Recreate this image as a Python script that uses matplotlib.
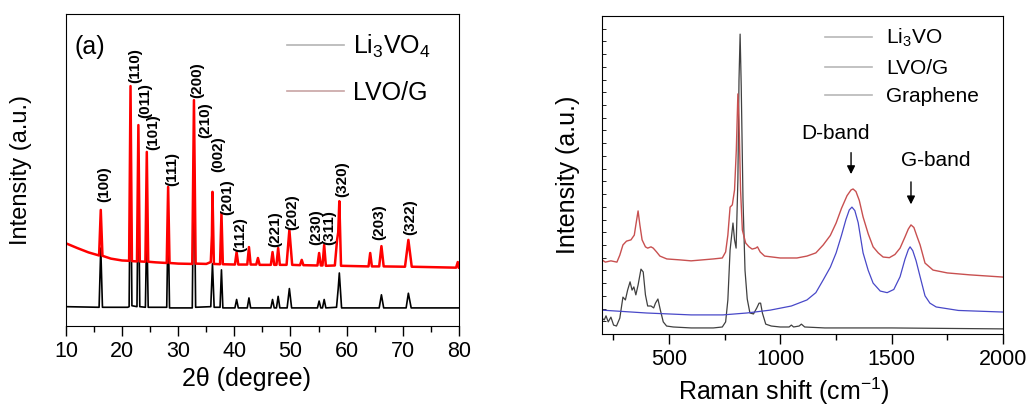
import matplotlib
matplotlib.use("Agg")
import matplotlib.pyplot as plt
from matplotlib.lines import Line2D
from matplotlib.ticker import MultipleLocator

plt.rcParams["font.family"] = ["Liberation Sans", "DejaVu Sans"]
plt.rcParams["mathtext.default"] = "regular"

# ---- XRD data (2theta in degree, intensity in arbitrary units) ----
lvog_xrd_x = [10.0, 12.0, 14.0, 15.9, 16.2, 16.5, 18.0, 20.0, 21.25, 21.5, 21.75, 22.65, 22.9, 23.15,
              24.15, 24.4, 24.65, 26.0, 27.95, 28.2, 28.45, 30.0, 32.5, 32.8, 33.1, 35.0, 35.8, 36.0,
              36.1, 36.35, 37.45, 37.7, 37.95, 40.1, 40.4, 40.7, 42.3, 42.6, 42.9, 43.9, 44.2, 44.5,
              46.5, 46.8, 47.1, 47.5, 47.8, 48.1, 49.3, 49.8, 50.3, 51.7, 52.0, 52.3, 54.8, 55.1, 55.4,
              55.7, 56.0, 56.3, 57.9, 58.3, 58.5, 58.7, 59.0, 63.9, 64.2, 64.5, 65.8, 66.2, 66.6,
              70.4, 71.0, 71.6, 79.5, 79.8, 80.0]
lvog_xrd_y = [0.265, 0.250, 0.236, 0.226, 0.372, 0.225, 0.216, 0.210, 0.209, 0.769, 0.208, 0.207, 0.644, 0.207,
              0.206, 0.558, 0.206, 0.204, 0.202, 0.446, 0.202, 0.200, 0.199, 0.724, 0.200, 0.199, 0.205, 0.290,
              0.430, 0.199, 0.198, 0.362, 0.198, 0.197, 0.237, 0.197, 0.197, 0.253, 0.197, 0.197, 0.218, 0.196,
              0.196, 0.237, 0.196, 0.196, 0.250, 0.196, 0.196, 0.308, 0.196, 0.195, 0.212, 0.195, 0.194, 0.234, 0.194,
              0.194, 0.260, 0.193, 0.194, 0.276, 0.300, 0.400, 0.193, 0.191, 0.234, 0.191, 0.191, 0.256, 0.191,
              0.190, 0.276, 0.190, 0.187, 0.205, 0.187]

lvo_xrd_x = [10.0, 15.9, 16.2, 16.5, 21.0, 21.25, 21.5, 21.75, 22.65, 22.9, 23.15, 24.15, 24.4, 24.65,
             27.95, 28.2, 28.45, 32.5, 32.8, 33.1, 35.8, 36.1, 36.4, 37.45, 37.7, 37.95, 40.1, 40.4, 40.7,
             42.3, 42.6, 42.9, 46.5, 46.8, 47.1, 47.5, 47.8, 48.1, 49.4, 49.8, 50.2, 54.8, 55.1, 55.4,
             55.7, 56.0, 56.3, 58.2, 58.5, 58.7, 59.1, 65.8, 66.2, 66.6, 70.6, 71.0, 71.5, 80.0]
lvo_xrd_y = [0.062, 0.060, 0.250, 0.060, 0.060, 0.062, 0.600, 0.065, 0.062, 0.510, 0.062, 0.060, 0.330, 0.060,
             0.060, 0.350, 0.058, 0.058, 0.600, 0.060, 0.062, 0.200, 0.060, 0.060, 0.180, 0.058, 0.058, 0.085, 0.058,
             0.058, 0.090, 0.058, 0.058, 0.085, 0.058, 0.058, 0.095, 0.058, 0.058, 0.120, 0.058, 0.058, 0.080, 0.058,
             0.058, 0.085, 0.058, 0.060, 0.120, 0.170, 0.058, 0.058, 0.100, 0.058, 0.058, 0.105, 0.058, 0.058]

hkl_labels = ["(100)", "(110)", "(011)", "(101)", "(111)", "(200)", "(210)", "(002)", "(201)",
              "(112)", "(221)", "(202)", "(230)", "(311)", "(320)", "(203)", "(322)"]
hkl_x = [16.9, 22.3, 24.1, 25.5, 28.9, 33.3, 34.8, 37.1, 38.7, 41.0, 47.2, 50.4, 54.5, 56.9, 59.2, 65.9, 71.3]
hkl_y = [0.397, 0.779, 0.667, 0.564, 0.449, 0.731, 0.603, 0.494, 0.356, 0.237, 0.253, 0.308, 0.260, 0.260,
         0.413, 0.276, 0.292]

# ---- Raman data (cm-1, intensity in arbitrary units) ----
lvo_raman_x = [200, 210, 218, 228, 240, 252, 265, 280, 294, 305, 315, 326, 335, 343, 352, 362, 375, 385,
               395, 405, 420, 432, 440, 451, 462, 475, 490, 520, 600, 700, 740, 755, 765, 775, 788, 795,
               802, 810, 815, 820, 825, 833, 842, 852, 864, 880, 895, 905, 912, 920, 935, 960, 1000, 1040,
               1050, 1060, 1085, 1095, 1110, 1200, 1500, 2000]
lvo_raman_y = [0.050, 0.044, 0.057, 0.038, 0.053, 0.028, 0.025, 0.050, 0.116, 0.107, 0.138, 0.164, 0.138,
               0.148, 0.123, 0.154, 0.204, 0.195, 0.123, 0.088, 0.088, 0.082, 0.097, 0.110, 0.075, 0.038,
               0.025, 0.022, 0.019, 0.019, 0.022, 0.038, 0.107, 0.264, 0.349, 0.296, 0.270, 0.484, 0.799,
               0.943, 0.780, 0.420, 0.200, 0.110, 0.066, 0.063, 0.082, 0.097, 0.097, 0.066, 0.031, 0.025,
               0.022, 0.022, 0.028, 0.022, 0.025, 0.031, 0.022, 0.019, 0.019, 0.016]

lvog_raman_x = [200, 215, 240, 267, 280, 294, 310, 330, 345, 352, 362, 370, 380, 395, 405, 420, 430, 445,
                460, 491, 550, 600, 650, 700, 740, 755, 765, 775, 785, 795, 803, 810, 815, 822, 830, 845,
                860, 874, 890, 898, 910, 930, 1000, 1075, 1120, 1160, 1193, 1225, 1251, 1275, 1300, 1318,
                1327, 1340, 1355, 1372, 1395, 1417, 1440, 1462, 1490, 1515, 1538, 1560, 1575, 1587, 1600,
                1615, 1628, 1650, 1686, 1750, 1850, 2000]
lvog_raman_y = [0.233, 0.226, 0.230, 0.226, 0.248, 0.280, 0.292, 0.296, 0.311, 0.343, 0.387, 0.343, 0.296,
                0.274, 0.270, 0.274, 0.270, 0.258, 0.245, 0.236, 0.233, 0.230, 0.233, 0.236, 0.239, 0.258,
                0.311, 0.399, 0.406, 0.453, 0.579, 0.755, 0.673, 0.453, 0.327, 0.286, 0.274, 0.267, 0.270,
                0.274, 0.258, 0.245, 0.239, 0.239, 0.245, 0.255, 0.280, 0.310, 0.349, 0.395, 0.435, 0.453,
                0.456, 0.448, 0.420, 0.368, 0.315, 0.274, 0.255, 0.242, 0.240, 0.250, 0.270, 0.305, 0.330,
                0.343, 0.335, 0.305, 0.280, 0.223, 0.201, 0.192, 0.186, 0.179]

graphene_x = [200, 400, 600, 743, 850, 955, 1050, 1120, 1160, 1193, 1225, 1251, 1275, 1295, 1310, 1322,
              1335, 1350, 1372, 1395, 1417, 1449, 1480, 1510, 1538, 1560, 1575, 1583, 1595, 1610, 1628,
              1650, 1672, 1700, 1800, 2000]
graphene_y = [0.075, 0.066, 0.060, 0.060, 0.066, 0.075, 0.088, 0.107, 0.130, 0.170, 0.210, 0.255, 0.310,
              0.360, 0.390, 0.399, 0.388, 0.350, 0.255, 0.200, 0.160, 0.135, 0.130, 0.140, 0.180, 0.235,
              0.265, 0.274, 0.262, 0.230, 0.180, 0.120, 0.097, 0.085, 0.074, 0.069]

fig = plt.figure(figsize=(10.34, 4.07), dpi=100)

# ---------------- (a) XRD ----------------
ax1 = fig.add_axes([0.0638, 0.199, 0.380, 0.7666])
ax1.plot(lvo_xrd_x, lvo_xrd_y, color="black", lw=1.2)
ax1.plot(lvog_xrd_x, lvog_xrd_y, color="red", lw=1.8)
for lab, x, y in zip(hkl_labels, hkl_x, hkl_y):
    ax1.text(x, y, lab, rotation=90, ha="center", va="bottom", fontsize=11, fontweight="bold")
ax1.text(0.022, 0.895, "(a)", transform=ax1.transAxes, fontsize=18, va="center")
ax1.set_xlim(10, 80)
ax1.set_ylim(0, 1)
ax1.xaxis.set_major_locator(MultipleLocator(10))
ax1.xaxis.set_minor_locator(MultipleLocator(5))
ax1.tick_params(axis="x", which="major", length=7, width=1, labelsize=15.5, direction="out")
ax1.tick_params(axis="x", which="minor", length=4, width=1, direction="out")
ax1.set_yticks([])
ax1.set_xlabel("2θ (degree)", fontsize=18)
ax1.xaxis.set_label_coords(0.46, -0.13)
ax1.set_ylabel("Intensity (a.u.)", fontsize=17)
ax1.yaxis.set_label_coords(-0.087, 0.5)
h1 = [Line2D([], [], color="#b4b4b4", lw=1.2), Line2D([], [], color="#c8a4a4", lw=1.2)]
ax1.legend(h1, ["Li$_3$VO$_4$", "LVO/G"], loc="upper left", bbox_to_anchor=(0.562, 0.94),
           frameon=False, fontsize=18, handlelength=2.3, handletextpad=0.35, labelspacing=0.85,
           borderpad=0, borderaxespad=0)

# ---------------- (b) Raman ----------------
ax2 = fig.add_axes([0.5822, 0.1794, 0.3878, 0.7813])
ax2.plot(lvo_raman_x, lvo_raman_y, color="#404040", lw=0.9)
ax2.plot(graphene_x, graphene_y, color="#4848c8", lw=0.9)
ax2.plot(lvog_raman_x, lvog_raman_y, color="#c85050", lw=1.0)
ax2.set_xlim(200, 2000)
ax2.set_ylim(0, 1)
ax2.xaxis.set_major_locator(MultipleLocator(500))
ax2.xaxis.set_minor_locator(MultipleLocator(250))
ax2.tick_params(axis="x", which="major", length=7, width=1, labelsize=15.5, direction="out")
ax2.tick_params(axis="x", which="minor", length=4, width=1, direction="out")
ax2.yaxis.set_major_locator(MultipleLocator(0.04))
ax2.tick_params(axis="y", which="major", length=3, width=0.6, direction="in", labelleft=False)
ax2.set_xlabel("Raman shift (cm$^{-1}$)", fontsize=18)
ax2.xaxis.set_label_coords(0.454, -0.132)
ax2.set_ylabel("Intensity (a.u.)", fontsize=18)
ax2.yaxis.set_label_coords(-0.055, 0.5)
ax2.text(1248, 0.629, "D-band", ha="center", va="center", fontsize=15)
ax2.annotate("", xy=(1318, 0.494), xytext=(1318, 0.579),
             arrowprops=dict(arrowstyle="-|>", color="black", lw=1, mutation_scale=12))
ax2.text(1699, 0.547, "G-band", ha="center", va="center", fontsize=15)
ax2.annotate("", xy=(1587, 0.399), xytext=(1587, 0.487),
             arrowprops=dict(arrowstyle="-|>", color="black", lw=1, mutation_scale=12))
h2 = [Line2D([], [], color="#b8b8b8", lw=1.2) for _ in range(3)]
ax2.legend(h2, ["Li$_3$VO", "LVO/G", "Graphene"], loc="upper left", bbox_to_anchor=(0.556, 0.965),
           frameon=False, fontsize=15, handlelength=2.25, handletextpad=0.7, labelspacing=0.45,
           borderpad=0, borderaxespad=0)

fig.savefig("out.png", dpi=100)
